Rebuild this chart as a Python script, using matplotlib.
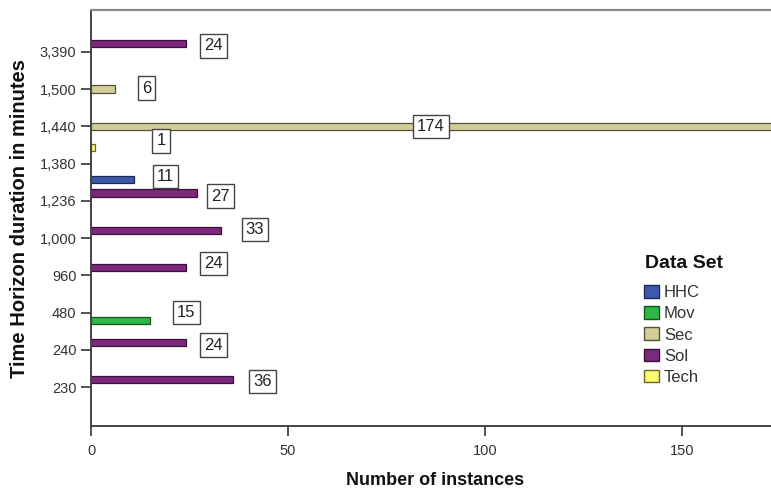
import matplotlib
matplotlib.use("Agg")
import matplotlib.pyplot as plt

plt.rcParams['font.family'] = ['Liberation Sans', 'DejaVu Sans']

# categories bottom -> top
categories = ["230", "240", "480", "960", "1,000", "1,236", "1,380", "1,440", "1,500", "3,390"]
datasets = ["HHC", "Mov", "Sec", "Sol", "Tech"]
hhc = [0, 0, 0, 0, 0, 0, 11, 0, 0, 0]
mov = [0, 0, 15, 0, 0, 0, 0, 0, 0, 0]
sec = [0, 0, 0, 0, 0, 0, 0, 174, 6, 0]
sol = [36, 24, 0, 24, 33, 27, 0, 0, 0, 24]
tech = [0, 0, 0, 0, 0, 0, 1, 0, 0, 0]
values = [hhc, mov, sec, sol, tech]

colors = ["#3E58AC", "#2EB848", "#D3CE97", "#7C287D", "#FBF873"]
edges = ["#1c2a55", "#14521f", "#55523a", "#3a0f3b", "#6b6920"]

# label nudges in pixels (dx right, dy down) relative to default spot
nudge = {(9, "Sol"): (-2, 2), (8, "Sec"): (2, -1), (6, "Tech"): (36, -7),
         (6, "HHC"): (1, -3), (5, "Sol"): (-7, 3), (4, "Sol"): (4, -1),
         (3, "Sol"): (-2, -4), (2, "Mov"): (6, -8), (1, "Sol"): (-2, 3),
         (0, "Sol"): (0, 2)}

W, H = 771, 491
fig = plt.figure(figsize=(W / 100, H / 100), dpi=100)
ax = fig.add_axes([91 / W, (H - 426) / H, (W - 91) / W, (426 - 10) / H])

xmax = 172.6
step = 0.21
barh = 0.19
for k, name in enumerate(datasets):
    off = (k - 2) * step
    for i, v in enumerate(values[k]):
        if v == 0:
            continue
        y = i + off
        ax.barh(y, v, height=barh, color=colors[k], edgecolor=edges[k], linewidth=0.9, zorder=2)
        dx, dy = nudge.get((i, name), (0, 0))
        if v > xmax:
            xpos, ox = xmax / 2, 0
        else:
            xpos, ox = v, 30 + dx
        ax.annotate(str(v), (xpos, y), xytext=(ox * 0.72, -dy * 0.72), textcoords="offset points",
                    ha="center", va="center", fontsize=12, color="#222222", zorder=4,
                    bbox=dict(boxstyle="square,pad=0.25", fc="white", ec="#444444", lw=1.0))

ax.set_xlim(0, xmax)
ax.set_ylim(-1.04, 10.12)
ax.set_yticks(range(len(categories)))
ax.set_yticklabels(categories)
ax.set_xticks([0, 50, 100, 150])
ax.tick_params(axis="both", labelsize=10.5, colors="#333333", length=7, width=1.2, direction="out")
ax.tick_params(axis="x", pad=6)

for s in ["left", "bottom"]:
    ax.spines[s].set_color("#444444")
    ax.spines[s].set_linewidth(1.4)
ax.spines["top"].set_color("#888888")
ax.spines["top"].set_linewidth(1.6)
ax.spines["right"].set_visible(False)

ax.set_xlabel("Number of instances", fontsize=13, fontweight="bold", color="#111111")
ax.xaxis.set_label_coords((435 - 91) / (W - 91), -(472 - 426) / (426 - 10))
ax.set_ylabel("Time Horizon duration in minutes", fontsize=14.5, fontweight="bold", color="#111111")
ax.yaxis.set_label_coords(-(91 - 29) / (W - 91), 0.5)

fig.text(645 / W, 1 - 263 / H, "Data Set", fontsize=14, fontweight="bold", color="#111111",
         ha="left", va="center")
handles = [plt.Rectangle((0, 0), 1, 1, fc=c, ec=e, lw=1) for c, e in zip(colors, edges)]
leg = fig.legend(handles, datasets, loc="upper left",
                 bbox_to_anchor=(644 / W, 1 - 285 / H), frameon=False, fontsize=12,
                 handlelength=0.9, handleheight=0.8, handletextpad=0.3, labelspacing=0.36,
                 borderpad=0, borderaxespad=0)
for t in leg.get_texts():
    t.set_color("#333333")

plt.savefig("out.png", dpi=100)
plt.close()
